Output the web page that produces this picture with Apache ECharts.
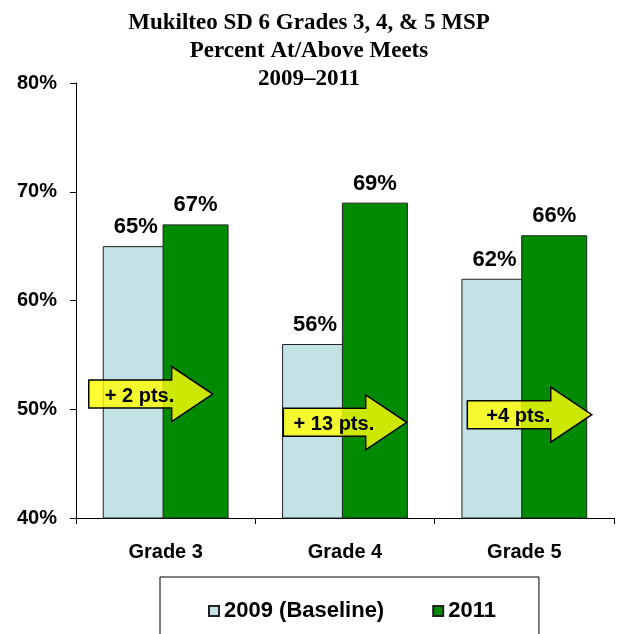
<!DOCTYPE html>
<html>
<head>
<meta charset="utf-8">
<script src="https://cdn.jsdelivr.net/npm/echarts@6/dist/echarts.min.js"></script>
<style>
html,body{margin:0;padding:0;background:#fff;}
#chart{width:618px;height:634px;}
</style>
</head>
<body>
<div id="chart"></div>
<script>
const categories = ['Grade 3', 'Grade 4', 'Grade 5'];
const seriesNames = ['2009 (Baseline)', '2011'];
const values2009 = [65, 56, 62];
const values2011 = [67, 69, 66];
const yTicks = [40, 50, 60, 70, 80];
// arrow annotations: [xStart, xEnd (category units), yCenter (%), label]
const arrowStarts = [0.071, 1.156, 2.182];
const arrowEnds = [0.762, 1.844, 2.876];
const arrowLevels = [51.4, 48.8, 49.5];
const arrowLabels = ['+ 2 pts.', '+ 13 pts.', '+4 pts.'];

const arrowData = arrowStarts.map((s, i) => [s, arrowEnds[i], arrowLevels[i], arrowLabels[i]]);

const SANS = '"Liberation Sans", Arial, sans-serif';
const chart = echarts.init(document.getElementById('chart'), null, {renderer: 'canvas'});

function renderArrow(params, api) {
  const p0 = api.coord([api.value(0), api.value(2)]);
  const p1 = api.coord([api.value(1), api.value(2)]);
  const x0 = p0[0], x1 = p1[0], yc = p0[1];
  const bodyH = 28, headH = 55, headL = 41;
  const hx = x1 - headL;
  const pts = [
    [x0, yc - bodyH / 2], [hx, yc - bodyH / 2], [hx, yc - headH / 2], [x1, yc],
    [hx, yc + headH / 2], [hx, yc + bodyH / 2], [x0, yc + bodyH / 2]
  ];
  const label = arrowLabels[params.dataIndex];
  return {
    type: 'group',
    children: [
      {type: 'polygon', shape: {points: pts},
       style: {fill: 'rgba(255,255,0,0.8)', stroke: '#000', lineWidth: 1.5}},
      {type: 'text', x: x0 + 0.41 * (x1 - x0), y: yc + 2,
       style: {text: label, fill: '#000', font: 'bold 20px ' + SANS, align: 'center', verticalAlign: 'middle'}}
    ]
  };
}

const option = {
  backgroundColor: '#fff',
  animation: false,
  title: {
    text: 'Mukilteo SD 6 Grades 3, 4, & 5 MSP\nPercent At/Above Meets\n2009\u20132011',
    left: 'center',
    top: 4,
    textStyle: {fontFamily: '"Liberation Serif", "Times New Roman", serif', fontWeight: 'bold', fontSize: 23, lineHeight: 28, color: '#000'}
  },
  legend: {
    data: seriesNames,
    left: 160,
    top: 577,
    padding: [23, 43, 40, 48],
    borderColor: '#000',
    borderWidth: 1,
    borderRadius: 0,
    itemWidth: 10,
    itemHeight: 10,
    itemGap: 48,
    icon: 'rect',
    selectedMode: false,
    textStyle: {fontFamily: SANS, fontWeight: 'bold', fontSize: 22, color: '#000'}
  },
  grid: {left: 76, right: 4, top: 83, bottom: 116, containLabel: false},
  xAxis: [
    {
      type: 'category',
      data: categories,
      axisLine: {lineStyle: {color: '#000', width: 1}},
      axisTick: {show: true, length: 6, lineStyle: {color: '#000'}},
      axisLabel: {fontFamily: SANS, fontWeight: 'bold', fontSize: 20, color: '#000', margin: 24},
      splitLine: {show: false}
    },
    {
      type: 'value', min: 0, max: 3, show: false, position: 'bottom'
    }
  ],
  yAxis: {
    type: 'value',
    min: yTicks[0],
    max: yTicks[yTicks.length - 1],
    interval: 10,
    axisLine: {show: true, lineStyle: {color: '#000', width: 1}},
    axisTick: {show: true, length: 6, lineStyle: {color: '#000'}},
    axisLabel: {formatter: '{value}%', fontFamily: SANS, fontWeight: 'bold', fontSize: 20, color: '#000', margin: 19},
    splitLine: {show: false}
  },
  series: [
    {
      name: seriesNames[0],
      type: 'bar',
      data: values2009,
      barWidth: 66,
      barGap: '-9.4%',
      itemStyle: {color: '#C2E2E6', borderColor: '#222', borderWidth: 1},
      label: {show: true, position: 'top', distance: 8, formatter: '{c}%', fontFamily: SANS, fontWeight: 'bold', fontSize: 22, color: '#000'}
    },
    {
      name: seriesNames[1],
      type: 'bar',
      data: values2011,
      barWidth: 66,
      barGap: '-9.4%',
      itemStyle: {color: '#008A00', borderColor: '#222', borderWidth: 1},
      label: {show: true, position: 'top', distance: 8, formatter: '{c}%', fontFamily: SANS, fontWeight: 'bold', fontSize: 22, color: '#000'}
    },
    {
      type: 'custom',
      xAxisIndex: 1,
      yAxisIndex: 0,
      clip: false,
      renderItem: renderArrow,
      data: arrowData,
      encode: {x: [0, 1], y: 2},
      silent: true,
      z: 5
    }
  ]
};
chart.setOption(option);
</script>
</body>
</html>
